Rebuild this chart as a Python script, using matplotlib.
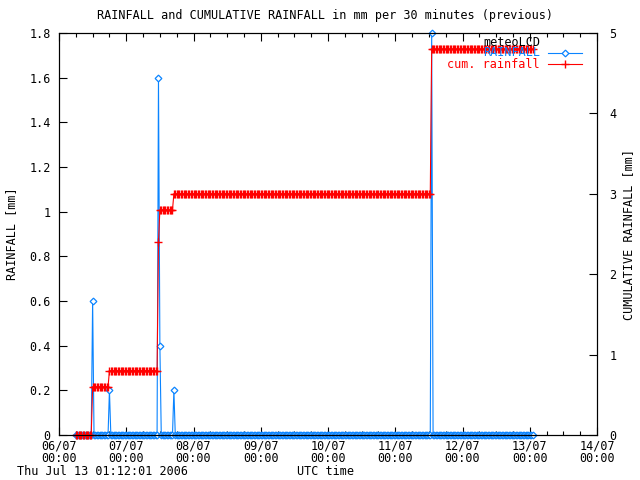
import numpy as np
import pandas as pd
import matplotlib
matplotlib.use("Agg")
import matplotlib.pyplot as plt
import matplotlib.dates as mdates
from matplotlib.lines import Line2D

plt.rcParams["font.family"] = "DejaVu Sans Mono"
plt.rcParams["font.size"] = 8.5

# 30 minute samples, meteoLCD station
t_start = "2006-07-06 06:00"
t_end = "2006-07-13 01:00"
rain_times = ["2006-07-06 12:00", "2006-07-06 18:00", "2006-07-07 11:30",
              "2006-07-07 12:00", "2006-07-07 17:00", "2006-07-11 13:00"]
rain_mm = [0.6, 0.2, 1.6, 0.4, 0.2, 1.8]

times = pd.date_range(t_start, t_end, freq="30min")
rain = pd.Series(0.0, index=times)
rain[pd.to_datetime(rain_times)] = rain_mm
cum = rain.cumsum()

BLUE = "#0a84ff"
RED = "#ff0000"

fig = plt.figure(figsize=(6.4, 4.8), dpi=100)
ax = fig.add_axes([59/640, 45/480, 538/640, 402/480])
ax2 = ax.twinx()

ax.plot(times, rain.values, color=BLUE, lw=0.8, marker="D", ms=3.4,
        mfc="white", mec=BLUE, mew=0.9, clip_on=False)
ax2.plot(times, cum.values, color=RED, lw=0.8, marker="+", ms=5.5, mew=1.0,
         clip_on=False)

ax.set_xlim(pd.Timestamp("2006-07-06"), pd.Timestamp("2006-07-14"))
ax.set_ylim(0, 1.8)
ax2.set_ylim(0, 5)
ax.set_yticks(np.arange(0, 1.81, 0.2))
ax.set_yticklabels(["0", "0.2", "0.4", "0.6", "0.8", "1", "1.2", "1.4", "1.6", "1.8"])
ax2.set_yticks(range(6))

ax.xaxis.set_major_locator(mdates.DayLocator())
ax.xaxis.set_minor_locator(mdates.HourLocator(byhour=[6, 12, 18]))
ax.xaxis.set_major_formatter(mdates.DateFormatter("%d/%m\n%H:%M"))
for lbl in ax.get_xticklabels():
    lbl.set_linespacing(0.95)

ax.tick_params(axis="x", which="both", direction="in", top=True, pad=3)
ax.tick_params(axis="x", which="major", length=6, width=0.8)
ax.tick_params(axis="x", which="minor", length=3, width=0.8)
ax.tick_params(axis="y", direction="in", length=6, width=0.8, pad=6)
ax2.tick_params(axis="y", direction="in", length=6, width=0.8, pad=9)
for a in (ax, ax2):
    for s in a.spines.values():
        s.set_linewidth(0.8)

ax.set_ylabel("RAINFALL [mm]")
ax.yaxis.set_label_coords(-0.076, 0.5)
ax2.set_ylabel("CUMULATIVE RAINFALL [mm]")
ax2.yaxis.set_label_coords(1.046, 0.5)
fig.text(0.508, 0.968, "RAINFALL and CUMULATIVE RAINFALL in mm per 30 minutes (previous)",
         ha="center", va="center")
fig.text(0.508, 0.017, "UTC time", ha="center", va="center")
fig.text(17/640, 0.017, "Thu Jul 13 01:12:01 2006", ha="left", va="center")

# legend drawn gnuplot style: right aligned text, sample line to the right
fig.text(540/640, 1 - 43/480, "meteoLCD", ha="right", va="center", color="black")
fig.text(540/640, 1 - 53/480, "RAINFALL", ha="right", va="center", color=BLUE)
fig.text(540/640, 1 - 64/480, "cum. rainfall", ha="right", va="center", color=RED)
fig.add_artist(Line2D([548/640, 582/640], [1 - 53/480] * 2, color=BLUE, lw=0.8))
fig.add_artist(Line2D([565/640], [1 - 53/480], color=BLUE, marker="D", ms=3.4,
                      mfc="white", mec=BLUE, mew=0.9))
fig.add_artist(Line2D([548/640, 582/640], [1 - 64/480] * 2, color=RED, lw=0.8))
fig.add_artist(Line2D([565/640], [1 - 64/480], color=RED, marker="+", ms=5.5, mew=1.0))

fig.savefig("out.png", dpi=100)
